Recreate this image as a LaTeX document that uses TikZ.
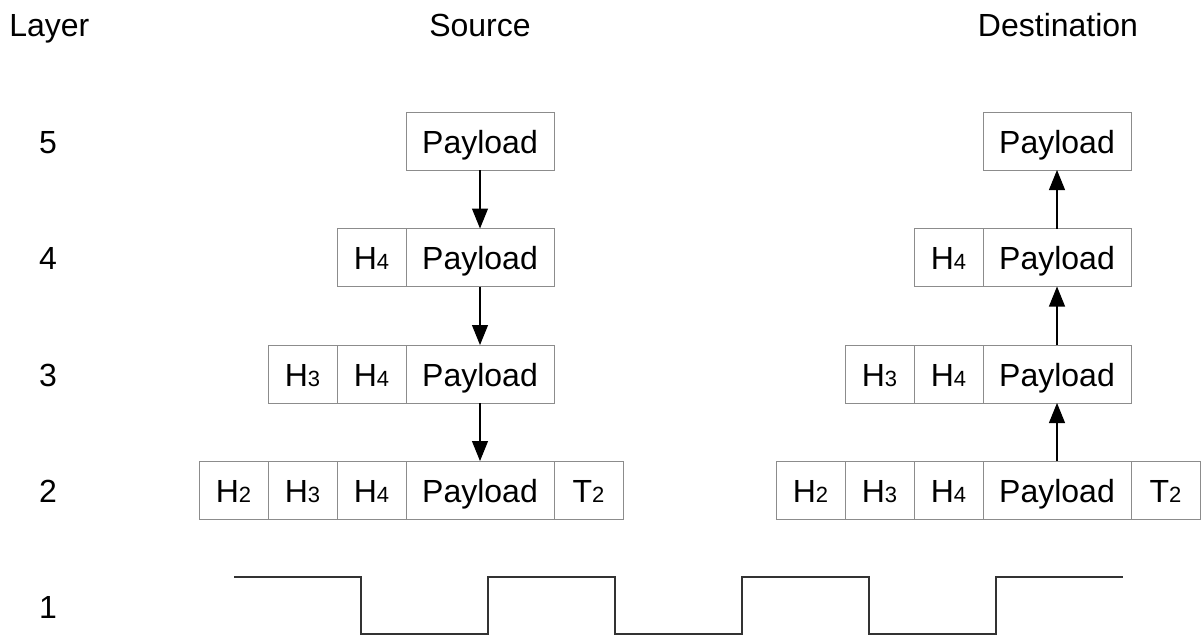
\documentclass[tikz,border=0pt]{standalone}
\usepackage{fontspec}
\setmainfont{Liberation Sans}
\usetikzlibrary{arrows.meta}
\definecolor{boxgray}{RGB}{140,140,140}
\newcommand{\sub}[1]{{\fontsize{16.5}{16.5}\selectfont #1}}
\tikzset{
  cell/.style={draw=boxgray, line width=0.75pt, minimum height=43.5pt, inner sep=0pt, outer sep=0pt, text height=18pt, text depth=0pt, font=\fontsize{24}{28}\selectfont},
  hcell/.style={cell, minimum width=51.75pt},
  pcell/.style={cell, minimum width=111pt},
  lbl/.style={font=\fontsize{24}{28}\selectfont, inner sep=0pt, text height=16.5pt, text depth=0pt},
  flow/.style={draw=black, line width=0.8pt, -{Triangle[length=15pt,width=12pt]}},
  wave/.style={draw=black!80, line width=0.9pt}
}
\begin{document}
\begin{tikzpicture}[x=0.75pt,y=-0.75pt]
\useasboundingbox (0,0) rectangle (1204,637);
% headers
\node[lbl, anchor=west] (hlayer) at (9,25) {Layer};
\node[lbl] (hsrc) at (480,25) {Source};
\node[lbl] (hdst) at (1058,25) {Destination};
% layer numbers
\node[lbl] (l5) at (48,142) {5};
\node[lbl] (l4) at (48,258.5) {4};
\node[lbl] (l3) at (48,375) {3};
\node[lbl] (l2) at (48,491) {2};
\node[lbl] (l1) at (48,607) {1};
% source
\node[pcell] (s5p) at (480,141) {Payload};
\node[pcell] (s4p) at (480,257.5) {Payload};
\node[hcell] (s4h4) at (371.5,257.5) {H\sub{4}};
\node[pcell] (s3p) at (480,374) {Payload};
\node[hcell] (s3h4) at (371.5,374) {H\sub{4}};
\node[hcell] (s3h3) at (302.5,374) {H\sub{3}};
\node[pcell] (s2p) at (480,490) {Payload};
\node[hcell] (s2h4) at (371.5,490) {H\sub{4}};
\node[hcell] (s2h3) at (302.5,490) {H\sub{3}};
\node[hcell] (s2h2) at (233.5,490) {H\sub{2}};
\node[hcell] (s2t2) at (588.5,490) {T\sub{2}};
% destination
\node[pcell] (d5p) at (1057,141) {Payload};
\node[pcell] (d4p) at (1057,257.5) {Payload};
\node[hcell] (d4h4) at (948.5,257.5) {H\sub{4}};
\node[pcell] (d3p) at (1057,374) {Payload};
\node[hcell] (d3h4) at (948.5,374) {H\sub{4}};
\node[hcell] (d3h3) at (879.5,374) {H\sub{3}};
\node[pcell] (d2p) at (1057,490) {Payload};
\node[hcell] (d2h4) at (948.5,490) {H\sub{4}};
\node[hcell] (d2h3) at (879.5,490) {H\sub{3}};
\node[hcell] (d2h2) at (810.5,490) {H\sub{2}};
\node[hcell] (d2t2) at (1165.5,490) {T\sub{2}};
% arrows
\draw[flow] (s5p.south) -- (s4p.north);
\draw[flow] (s4p.south) -- (s3p.north);
\draw[flow] (s3p.south) -- (s2p.north);
\draw[flow] (d2p.north) -- (d3p.south);
\draw[flow] (d3p.north) -- (d4p.south);
\draw[flow] (d4p.north) -- (d5p.south);
% physical signal
\draw[wave] (234,577) -- (361,577) -- (361,634) -- (488,634) -- (488,577) -- (615,577) -- (615,634) -- (742,634) -- (742,577) -- (869,577) -- (869,634) -- (996,634) -- (996,577) -- (1123,577);
\end{tikzpicture}
\end{document}
